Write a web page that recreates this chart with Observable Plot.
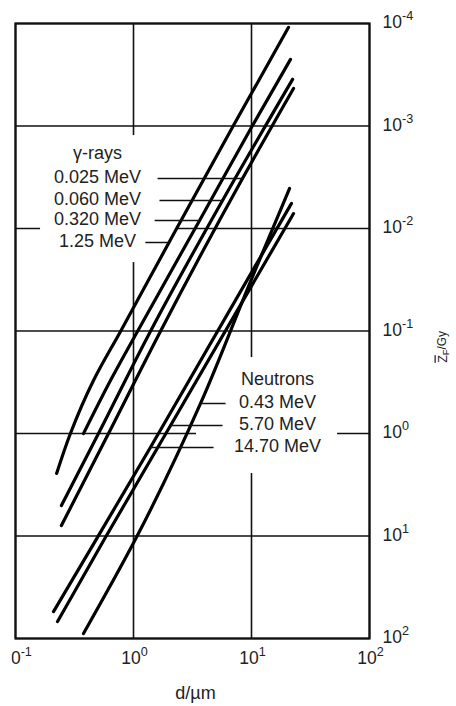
<!DOCTYPE html>
<html>
<head>
<meta charset="utf-8">
<script src="https://cdn.jsdelivr.net/npm/d3@7"></script>
<script src="https://cdn.jsdelivr.net/npm/@observablehq/plot@0.6"></script>
<style>
  body { margin: 0; background: #fff; }
  #chart svg { display: block; clip-path: inset(0 0 0 11.5px); }
</style>
</head>
<body>
<div id="chart"></div>
<script>
// Axis ticks (decades) and their labels; "^" marks the exponent.
const xTicks = [0.1, 1, 10, 100];
const xTickLabels = ["10^-1", "10^0", "10^1", "10^2"];
const yTicks = [1e-4, 1e-3, 1e-2, 1e-1, 1, 10, 100];
const yTickLabels = ["10^-4", "10^-3", "10^-2", "10^-1", "10^0", "10^1", "10^2"];

// Frequency-mean specific energy versus site diameter d (µm), photons.
const g025D = [0.245, 0.614, 1.69, 8.39, 22.7];
const g025Z = [7.9, 1.0, 0.101, 0.00325, 0.00043];
const g060D = [0.245, 0.505, 1.39, 5.68, 22.3];
const g060Z = [5.04, 1.0, 0.101, 0.00533, 0.00035];
const g320D = [0.377, 0.638, 1.08, 3.63, 10.2, 21.4];
const g320Z = [1.0, 0.304, 0.101, 0.00836, 0.00099, 0.000224];
const g125D = [0.223, 0.292, 0.458, 0.776, 2.32, 7.03, 20.6];
const g125Z = [2.45, 1.0, 0.304, 0.101, 0.010, 0.00099, 0.000109];

// Same quantity for neutrons.
const n043D = [0.377, 1.06, 3.70, 9.80, 21.0];
const n043Z = [89.4, 10.3, 0.509, 0.0329, 0.00407];
const n570D = [0.227, 0.579, 2.06, 22.7];
const n570Z = [68.3, 10.3, 0.836, 0.00715];
const n1470D = [0.210, 0.495, 1.39, 21.8];
const n1470Z = [54.6, 10.3, 1.37, 0.0057];

// Legend blocks: labels, leader heights and leader free ends.
const gammaTitle = "γ-rays";
const gammaLabels = ["0.025 MeV", "0.060 MeV", "0.320 MeV", "1.25 MeV"];
const gammaLeaderZ = [0.00325, 0.00533, 0.00836, 0.0137];
const gammaLeaderStart = [1.6, 1.66, 1.51, 1.26];
const gammaTitleZ = 0.0019;
const gammaTextD = 0.495;
const gammaBox = [0.163, 2.36, 0.00124, 0.0215];

const neutronTitle = "Neutrons";
const neutronLabels = ["0.43 MeV", "5.70 MeV", "14.70 MeV"];
const neutronLeaderZ = [0.509, 0.836, 1.37];
const neutronLeaderEnd = [6.03, 5.68, 4.77];
const neutronTitleZ = 0.304;
const neutronTextD = 16.6;
const neutronBox = [3.42, 53.6, 0.1815, 2.455];

const xLabel = "d/µm";
const yLabel = "Z_F/Gy";

const gammaCurves = [[g025D, g025Z], [g060D, g060Z], [g320D, g320Z], [g125D, g125Z]];
const neutronCurves = [[n043D, n043Z], [n570D, n570Z], [n1470D, n1470Z]];

function toRows(curves, labels) {
  return curves.flatMap(([ds, zs], k) => ds.map((d, i) => ({d, z: zs[i], series: labels[k]})));
}
// d where a curve reaches a given z (log-log interpolation)
function crossing([ds, zs], z) {
  const lz = Math.log10(z);
  for (let i = 0; i < ds.length - 1; i++) {
    const a = Math.log10(zs[i]), b = Math.log10(zs[i + 1]);
    if ((lz - a) * (lz - b) <= 0) {
      const t = (lz - a) / (b - a);
      const la = Math.log10(ds[i]), lb = Math.log10(ds[i + 1]);
      return 10 ** (la + t * (lb - la));
    }
  }
  return ds[0];
}

const rows = [...toRows(gammaCurves, gammaLabels), ...toRows(neutronCurves, neutronLabels)];
const gammaLeaders = gammaLabels.map((s, i) => ({
  x1: gammaLeaderStart[i], x2: crossing(gammaCurves[i], gammaLeaderZ[i]), y: gammaLeaderZ[i], label: s
}));
const neutronLeaders = neutronLabels.map((s, i) => ({
  x1: crossing(neutronCurves[i], neutronLeaderZ[i]), x2: neutronLeaderEnd[i], y: neutronLeaderZ[i], label: s
}));
const boxes = [gammaBox, neutronBox].map(([x1, x2, y1, y2]) => ({x1, x2, y1, y2}));

const font = "'Liberation Sans', Arial, Helvetica, sans-serif";

const chart = Plot.plot({
  width: 456,
  height: 706,
  marginLeft: 15,
  marginRight: 87,
  marginTop: 23,
  marginBottom: 68,
  style: {fontFamily: font, background: "#fff", color: "#111"},
  x: {type: "log", domain: [0.1, 100], axis: null},
  y: {type: "log", domain: [1e-4, 100], reverse: true, axis: null},
  marks: [
    Plot.ruleX(xTicks, {stroke: "#111", strokeWidth: 1.6}),
    Plot.ruleY(yTicks, {stroke: "#111", strokeWidth: 1.6}),
    Plot.rect(boxes, {x1: "x1", x2: "x2", y1: "y1", y2: "y2", fill: "#fff"}),
    Plot.frame({stroke: "#111", strokeWidth: 2.2}),
    Plot.line(rows, {x: "d", y: "z", z: "series", stroke: "#000", strokeWidth: 3.2, curve: "monotone-y"}),
    Plot.link([...gammaLeaders, ...neutronLeaders], {x1: "x1", x2: "x2", y1: "y", y2: "y", stroke: "#111", strokeWidth: 1.6}),
    Plot.text([gammaTitle, ...gammaLabels], {
      x: () => gammaTextD, y: (d, i) => i === 0 ? gammaTitleZ : gammaLeaderZ[i - 1],
      text: d => d, fontSize: 18, dy: -1, fill: "#222"
    }),
    Plot.text([neutronTitle, ...neutronLabels], {
      x: () => neutronTextD, y: (d, i) => i === 0 ? neutronTitleZ : neutronLeaderZ[i - 1],
      text: d => d, fontSize: 18, dy: -1, fill: "#222"
    }),
    Plot.text(xTicks, {x: d => d, text: (d, i) => xTickLabels[i], frameAnchor: "bottom", dy: 25, dx: 1, fontSize: 17.5, fill: "#222"}),
    Plot.text(yTicks, {y: d => d, text: (d, i) => yTickLabels[i], frameAnchor: "right", textAnchor: "start", dx: 13, dy: -1, fontSize: 17.5, fill: "#222"}),
    Plot.text([xLabel], {frameAnchor: "bottom", text: d => d, dy: 60, dx: 3, fontSize: 18, fill: "#222"}),
    Plot.text([0.1], {y: d => d, text: () => yLabel, frameAnchor: "right", dx: 73, rotate: -90, fontSize: 12.5, fill: "#222"})
  ]
});

// Typeset powers of ten and the subscripted quantity name.
const SVGNS = "http://www.w3.org/2000/svg";
chart.querySelectorAll("text").forEach(t => {
  const s = t.textContent;
  const m = s.match(/^(\d+)\^(.+)$/);
  if (m) {
    t.textContent = "";
    const base = document.createElementNS(SVGNS, "tspan");
    base.textContent = m[1];
    const exp = document.createElementNS(SVGNS, "tspan");
    exp.textContent = m[2];
    exp.setAttribute("font-size", "0.72em");
    exp.setAttribute("dy", "-0.62em");
    t.append(base, exp);
  } else if (s === yLabel) {
    t.textContent = "";
    const z = document.createElementNS(SVGNS, "tspan");
    z.textContent = "Z";
    z.setAttribute("text-decoration", "overline");
    z.style.textDecoration = "overline";
    const f = document.createElementNS(SVGNS, "tspan");
    f.textContent = "F";
    f.setAttribute("font-size", "0.75em");
    f.setAttribute("dy", "0.3em");
    const g = document.createElementNS(SVGNS, "tspan");
    g.textContent = "/Gy";
    g.setAttribute("dy", "-0.3em");
    g.setAttribute("font-size", "0.95em");
    t.append(z, f, g);
  }
});

document.getElementById("chart").append(chart);
</script>
</body>
</html>
